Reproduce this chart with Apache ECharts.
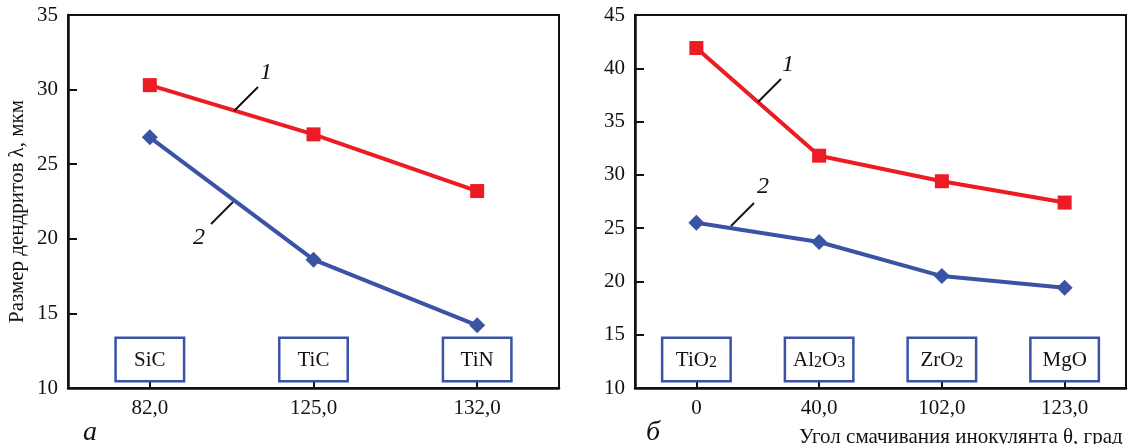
<!DOCTYPE html>
<html><head><meta charset="utf-8">
<script src="https://cdn.jsdelivr.net/npm/echarts@6/dist/echarts.min.js"></script>
<style>html,body{margin:0;padding:0;background:#fff}#c{width:1128px;height:444px}</style>
</head><body><div id="c"></div>
<script>
const ticksA = ['82,0', '125,0', '132,0'];
const inocA = ['SiC', 'TiC', 'TiN'];
const curve1A = [30.3, 27.0, 23.2];
const curve2A = [26.8, 18.6, 14.2];
const ticksB = ['0', '40,0', '102,0', '123,0'];
const inocB = ['TiO2', 'Al2O3', 'ZrO2', 'MgO'];
const curve1B = [41.9, 31.8, 29.4, 27.4];
const curve2B = [25.5, 23.7, 20.5, 19.4];
const yTitle = 'Размер дендритов λ, мкм';
const xTitleB = 'Угол смачивания инокулянта θ, град';
const panelA = 'а', panelB = 'б';

const FONT = 'Liberation Serif';
const RED = '#ED1C24', BLUE = '#3A53A4';

function valueAxis(gi, min, max, withName) {
  return {
    type: 'value', gridIndex: gi, min: min, max: max, interval: 5,
    splitLine: { show: false },
    axisLine: { show: true, lineStyle: { color: '#111', width: 2.5 } },
    axisTick: { show: true, inside: true, length: 9, lineStyle: { color: '#111', width: 2 } },
    axisLabel: { color: '#111', fontFamily: FONT, fontSize: 21, margin: 10 },
    name: withName ? yTitle : '', nameLocation: 'middle', nameGap: 40, nameRotate: 90,
    nameTextStyle: { color: '#111', fontFamily: FONT, fontSize: 21, padding: [0, 20, 0, 0] }
  };
}
function tickAxis(gi, data) {
  return {
    type: 'category', gridIndex: gi, data: data, boundaryGap: true,
    axisLine: { show: true, onZero: false, lineStyle: { color: '#111', width: 2.5 } },
    axisTick: { show: true, inside: true, alignWithLabel: true, length: 8, lineStyle: { color: '#111', width: 2 } },
    axisLabel: { color: '#111', fontFamily: FONT, fontSize: 21, margin: 10 }
  };
}
function boxAxis(gi, data) {
  return {
    type: 'category', gridIndex: gi, data: data, position: 'bottom', boundaryGap: true,
    axisLine: { show: false }, axisTick: { show: false }, splitLine: { show: false },
    axisLabel: {
      inside: true, margin: 8, interval: 0,
      formatter: v => v.replace(/(\d)/g, '{s|$1}'),
      color: '#111', fontFamily: FONT, fontSize: 21, lineHeight: 22,
      width: 64, align: 'center', padding: [10, 1, 9, 1],
      borderColor: BLUE, borderWidth: 2.5, backgroundColor: '#fff',
      rich: { s: { fontFamily: FONT, fontSize: 16, lineHeight: 16, verticalAlign: 'bottom', color: '#111' } }
    }
  };
}
function lineSeries(xi, yi, data, color, symbol, size) {
  return {
    type: 'line', xAxisIndex: xi, yAxisIndex: yi, data: data,
    symbol: symbol, symbolSize: size, showSymbol: true,
    lineStyle: { color: color, width: 4 }, itemStyle: { color: color },
    animation: false, z: 5
  };
}
function leader(x1, y1, x2, y2) {
  return { type: 'line', shape: { x1, y1, x2, y2 }, style: { stroke: '#111', lineWidth: 2 }, z: 10 };
}
function label(text, x, y, size) {
  return { type: 'text', x: x, y: y, z: 10, style: { text: text, fill: '#111', font: 'italic ' + size + 'px "' + FONT + '"', textAlign: 'center', textVerticalAlign: 'middle' } };
}

const chart = echarts.init(document.getElementById('c'), null, { renderer: 'canvas' });
chart.setOption({
  backgroundColor: '#fff',
  animation: false,
  grid: [
    { left: 68, top: 15, width: 491, height: 373, show: true, borderColor: '#111', borderWidth: 2, backgroundColor: 'transparent' },
    { left: 635, top: 15, width: 491, height: 373, show: true, borderColor: '#111', borderWidth: 2, backgroundColor: 'transparent' }
  ],
  xAxis: [tickAxis(0, ticksA), boxAxis(0, inocA), tickAxis(1, ticksB), boxAxis(1, inocB)],
  yAxis: [valueAxis(0, 10, 35, true), valueAxis(1, 10, 45, false)],
  series: [
    lineSeries(0, 0, curve1A, RED, 'rect', 14),
    lineSeries(0, 0, curve2A, BLUE, 'diamond', 16),
    lineSeries(2, 1, curve1B, RED, 'rect', 14),
    lineSeries(2, 1, curve2B, BLUE, 'diamond', 16)
  ],
  graphic: [
    leader(258, 87, 234, 111), label('1', 266, 73, 24),
    leader(211, 224, 233, 202), label('2', 199, 238, 24),
    leader(781, 79, 758, 102), label('1', 788, 65, 24),
    leader(754, 203, 731, 226), label('2', 763, 187, 24),
    label(panelA, 90, 433, 28),
    label(panelB, 653, 433, 28),
    { type: 'text', x: 799, y: 437, style: { text: xTitleB, fill: '#111', font: '21px "' + FONT + '"', textAlign: 'left', textVerticalAlign: 'middle' } }
  ]
});
</script></body></html>
